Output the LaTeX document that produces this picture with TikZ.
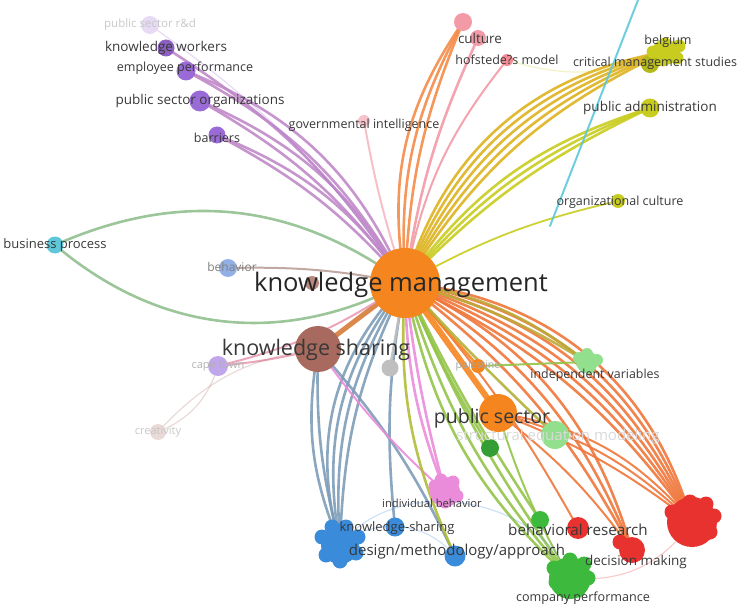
\documentclass[tikz,border=0pt]{standalone}
\usepackage{fontspec}
\setmainfont{Open Sans}
\usepackage{tikz}
\usetikzlibrary{positioning, backgrounds}

\definecolor{kmorange}{HTML}{F5861F}
\definecolor{ksbrown}{HTML}{A86A5E}
\definecolor{vpurple}{HTML}{9A6BD6}
\definecolor{vpink}{HTML}{F29AA6}
\definecolor{vyellow}{HTML}{C8CC1E}
\definecolor{vcyan}{HTML}{5EC8DA}
\definecolor{vlblue}{HTML}{92B0E6}
\definecolor{vblue}{HTML}{3A8BDA}
\definecolor{vgreen}{HTML}{3DBA3D}
\definecolor{vlgreen}{HTML}{92E08E}
\definecolor{vred}{HTML}{E8322F}
\definecolor{vmagenta}{HTML}{EA8CDA}
\definecolor{vlilac}{HTML}{C0A6EA}
\definecolor{redlink}{HTML}{F0753A}
\definecolor{yellink}{HTML}{DDB21E}
\definecolor{grnlink}{HTML}{94C44A}
\definecolor{bluelink}{HTML}{7E9CB8}
\definecolor{purplink}{HTML}{C08AC8}

\begin{document}
\begin{tikzpicture}[x=1pt, y=1pt,
	every node/.style={inner sep=0pt, outer sep=0pt},
	dot/.style={circle, fill=#1, minimum size=16pt},
	lbl/.style={font=\fontsize{#1}{#1}\selectfont, text=black!78},
	faint/.style={font=\fontsize{#1}{#1}\selectfont, text=black!22},
	link/.style={line width=2.6pt, draw=#1, line cap=round, opacity=.9},
	thin link/.style={line width=1.2pt, draw=#1, opacity=.25}
	]
	\useasboundingbox (0,0) rectangle (740,-610);
	\clip (0,0) rectangle (740,-610);

	% Nodes
	\node[dot=kmorange, minimum size=70pt] (km) at (405,-283) {};
	\node[dot=ksbrown, minimum size=46pt] (ks) at (318,-349) {};
	\node[dot=kmorange, minimum size=38pt] (ps) at (498,-413) {};
	\node[dot=ksbrown!80, minimum size=14pt] (kmb) at (312,-283) {};
	\node[dot=vcyan, minimum size=17pt] (bp) at (55,-245) {};
	\node[dot=vlblue, minimum size=18pt] (beh) at (228,-268) {};
	\node[dot=vlilac, minimum size=20pt] (cape) at (218,-366) {};
	\node[dot=ksbrown!25, minimum size=16pt] (cre) at (158,-432) {};
	\node[dot=vpurple!25, minimum size=18pt] (psrd) at (150,-25) {};
	\node[dot=vpurple!90!black, minimum size=17pt] (kw) at (166,-48) {};
	\node[dot=vpurple, minimum size=19pt] (ep) at (186,-71) {};
	\node[dot=vpurple, minimum size=21pt] (pso) at (200,-101) {};
	\node[dot=vpurple, minimum size=17pt] (bar) at (217,-135) {};
	\node[dot=vpink!60, minimum size=12pt] (gi) at (364,-121) {};
	\node[dot=vpink, minimum size=18pt] (cul) at (463,-22) {};
	\node[dot=vpink, minimum size=16pt] (cul2) at (478,-38) {};
	\node[dot=vpink!90!red, minimum size=12pt] (hof) at (507,-60) {};
	\node[dot=vyellow, minimum size=26pt] (bel) at (665,-52) {};
	\node[dot=vyellow!90!black, minimum size=18pt] (cms) at (650,-64) {};
	\node[dot=vyellow, minimum size=19pt] (pa) at (650,-108) {};
	\node[dot=vyellow, minimum size=14pt] (oc) at (618,-201) {};
	\node[dot=kmorange, minimum size=14pt] (pal) at (478,-366) {};
	\node[dot=black!25, minimum size=17pt] (gray) at (390,-368) {};
	\node[dot=vlgreen, minimum size=22pt] (iv) at (587,-362) {};
	\node[dot=vlgreen, minimum size=28pt] (sem) at (555,-435) {};
	\node[dot=vgreen!85!black, minimum size=18pt] (dg) at (490,-448) {};
	\node[dot=vmagenta, minimum size=30pt] (ib) at (445,-492) {};
	\node[dot=vblue, minimum size=38pt] (blue) at (340,-545) {};
	\node[dot=vblue, minimum size=19pt] (kss) at (395,-527) {};
	\node[dot=vblue, minimum size=21pt] (dma) at (455,-556) {};
	\node[dot=vgreen, minimum size=18pt] (brg) at (540,-520) {};
	\node[dot=vred, minimum size=22pt] (brr) at (578,-528) {};
	\node[dot=vred, minimum size=26pt] (dm) at (632,-550) {};
	\node[dot=vred, minimum size=50pt] (red) at (692,-522) {};
	\node[dot=vgreen, minimum size=42pt] (cp) at (570,-578) {};
	\coordinate (top) at (640,5);
	\coordinate (cyanend) at (550,-226);

	% cluster members
	\foreach \dx/\dy [count=\i] in {-20/10,-10/-8,4/-16,18/-10,22/6,14/18,-2/20,-16/-2,0/2,8/-4}
		\node[dot=vred, minimum size=15pt] (red\i) at ([shift={(\dx,\dy)}]red) {};
	\foreach \dx/\dy [count=\i] in {-12/8,4/-4}
		\node[dot=vred, minimum size=15pt] (dm\i) at ([shift={(\dx,\dy)}]dm) {};
	\foreach \dx/\dy [count=\i] in {-18/8,-14/-10,0/-16,16/-8,18/8,6/18,-8/18,0/0}
		\node[dot=vblue, minimum size=15pt] (blue\i) at ([shift={(\dx,\dy)}]blue) {};
	\foreach \dx/\dy [count=\i] in {-16/10,-8/-8,8/-12,18/0,14/14,0/18,-14/-4,2/2}
		\node[dot=vgreen, minimum size=15pt] (cp\i) at ([shift={(\dx,\dy)}]cp) {};
	\foreach \dx/\dy [count=\i] in {-10/6,0/-10,12/-4,8/10,-4/12}
		\node[dot=vmagenta, minimum size=13pt] (ib\i) at ([shift={(\dx,\dy)}]ib) {};
	\foreach \dx/\dy [count=\i] in {-12/0,-2/-8,12/-6,14/6,0/8}
		\node[dot=vyellow, minimum size=13pt] (bel\i) at ([shift={(\dx,\dy)}]bel) {};
	\foreach \dx/\dy [count=\i] in {-8/4,2/-6,10/2,0/8}
		\node[dot=vlgreen, minimum size=12pt] (iv\i) at ([shift={(\dx,\dy)}]iv) {};

	% Labels
	\node[lbl=25.5, text=black!85] (kmlbl) at (401,-285) {knowledge management};
	\node[lbl=21.5, text=black!78] (kslbl) at (316,-350) {knowledge sharing};
	\node[lbl=19.5] (pslbl) at (492,-418) {public sector};
	\node[lbl=13] (bplbl) at (bp) {business process};
	\node[lbl=12, text=black!50] (behlbl) at (232,-267) {behavior};
	\node[faint=11, text=black!30] (capelbl) at (cape) {cape town};
	\node[faint=11] (crelbl) at (cre) {creativity};
	\node[faint=11.5] (psrdlbl) at (psrd) {public sector r\&d};
	\node[lbl=13.5] (kwlbl) at (kw) {knowledge workers};
	\node[lbl=12.5] (eplbl) at (185,-68) {employee performance};
	\node[lbl=13.5] (psolbl) at (pso) {public sector organizations};
	\node[lbl=12.5] (barlbl) at (217,-138) {barriers};
	\node[lbl=12.5] (gilbl) at (364,-125) {governmental intelligence};
	\node[lbl=13.5] (cullbl) at (480,-38) {culture};
	\node[lbl=12.5] (hoflbl) at (507,-60) {hofstede?s model};
	\node[lbl=12.5] (bellbl) at (668,-41) {belgium};
	\node[lbl=12.5] (cmslbl) at (655,-63) {critical management studies};
	\node[lbl=13.5] (palbl) at (650,-108) {public administration};
	\node[lbl=12.5] (oclbl) at (620,-202) {organizational culture};
	\node[faint=10.5, text=black!35] (pallbl) at (pal) {palestine};
	\node[lbl=12.4] (ivlbl) at (595,-375) {independent variables};
	\node[faint=15, text=black!15] (semlbl) at (558,-437) {structural equation modeling};
	\node[lbl=11.2] (iblbl) at (432,-503) {individual behavior};
	\node[lbl=13] (ksslbl) at (397,-528) {knowledge-sharing};
	\node[lbl=15] (dmalbl) at (457,-552) {design/methodology/approach};
	\node[lbl=15.2] (brlbl) at (578,-530) {behavioral research};
	\node[lbl=13.5] (dmlbl) at (636,-562) {decision making};
	\node[lbl=12.6] (cplbl) at (583,-598) {company performance};

	% Links
	\begin{scope}[on background layer]
		\foreach \b in {14,18,22,26,30,34}
			\draw[link=redlink] (km.center) to[bend left=\b] (red.center);
		\foreach \b in {12,18,24}
			\draw[link=redlink] (km.center) to[bend left=\b] (dm.center);
		\foreach \b in {8,14,20}
			\draw[link=redlink, line width=2pt] (ps.center) to[bend left=\b] (red.center);
		\draw[link=redlink, line width=2pt] (ps.center) to[bend left=8] (dm.center);
		\draw[link=redlink, line width=2pt] (km.center) to[bend left=6] (brr.center);
		\foreach \b in {16,20,24,28,32}
			\draw[link=yellink] (km.center) to[bend left=\b] (bel.center);
		\foreach \b in {10,14,18}
			\draw[link=vyellow] (km.center) to[bend left=\b] (pa.center);
		\draw[link=vyellow, line width=1.8pt] (km.center) to[bend left=8] (oc.center);
		\draw[link=vcyan, line width=2pt] (top) -- (cyanend);
		\foreach \b in {10,16,22}
			\draw[link=kmorange!70!vpink] (km.center) to[bend left=\b] (cul.center);
		\draw[link=vpink] (km.center) to[bend left=8] (cul2.center);
		\draw[link=vpink, line width=2pt] (km.center) to[bend left=14] (hof.center);
		\draw[link=vpink!70, line width=2pt] (km.center) to[bend left=4] (gi.center);
		\foreach \n/\b in {kw/12,ep/16,ep/22,pso/12,pso/18,bar/10,bar/16}
			\draw[link=purplink] (km.center) to[bend right=\b] (\n.center);
		\draw[link=vcyan!60!yellink] (km.center) to[bend right=30] (bp.center);
		\draw[link=vcyan!60!yellink] (km.center) to[bend left=34] (bp.center);
		\draw[link=vlblue!60!kmorange, line width=2pt] (km.center) to[bend right=6] (beh.center);
		\draw[link=kmorange!60!ksbrown, line width=5pt] (km.center) -- (ks.center);
		\draw[link=vpink!80!vlilac, line width=2pt] (km.center) to[bend left=10] (cape.center);
		\draw[link=vpink!80!vlilac, line width=2pt] (ks.center) to[bend left=4] (cape.center);
		\foreach \b in {12,18,24,30}
			\draw[link=bluelink] (km.center) to[bend right=\b] (blue.center);
		\foreach \b in {8,16}
			\draw[link=bluelink] (ks.center) to[bend right=\b] (blue.center);
		\draw[link=bluelink] (km.center) to[bend right=8] (kss.center);
		\draw[link=bluelink] (ks.center) to[bend left=8] (dma.center);
		\foreach \b in {4,10}
			\draw[link=vmagenta] (km.center) to[bend right=\b] (ib.center);
		\draw[link=vmagenta, line width=2pt] (ks.center) to[bend right=6] (ib.center);
		\foreach \b in {6,12,18}
			\draw[link=grnlink] (km.center) to[bend right=\b] (cp.center);
		\draw[link=grnlink] (km.center) to[bend right=4] (brg.center);
		\draw[link=grnlink!60!yellink] (km.center) to[bend right=14] (dma.center);
		\draw[link=grnlink, line width=2pt] (ps.center) to[bend right=6] (cp.center);
		\foreach \b in {8,14}
			\draw[link=grnlink!60!kmorange] (km.center) to[bend left=\b] (iv.center);
		\draw[link=grnlink, line width=2pt] (pal.center) -- (iv.center);
		\draw[link=kmorange, line width=6pt] (km.center) -- (ps.center);
		\draw[link=kmorange] (km.center) -- (pal.center);
		\draw[link=black!25] (km.center) -- (gray.center);
		\draw[link=grnlink] (km.center) to[bend right=4] (dg.center);
		\draw[link=grnlink!70!kmorange] (km.center) to[bend right=2] (sem.center);
		% faint background links
		\draw[thin link=ksbrown] (cre.center) to[bend left=20] (ks.center);
		\draw[thin link=ksbrown] (cre.center) to[bend right=25] (cape.center);
		\draw[thin link=vblue] (blue.center) to[bend left=60] (cp.center);
		\draw[thin link=vblue] (blue.center) to[bend left=45] (dma.center);
		\draw[thin link=vpurple] (psrd.center) to[bend left=10] (km.center);
		\draw[thin link=vyellow] (bel.center) to[bend left=20] (hof.center);
		\draw[thin link=vred] (red.center) to[bend left=30] (cp.center);
	\end{scope}
\end{tikzpicture}
\end{document}
